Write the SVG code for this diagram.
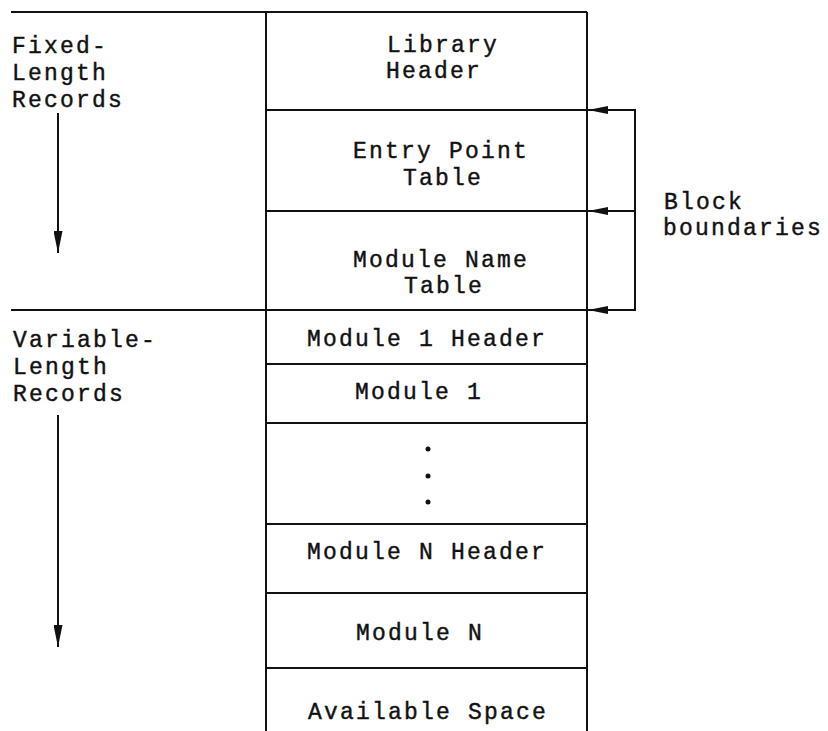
<svg xmlns="http://www.w3.org/2000/svg" width="828" height="731" viewBox="0 0 828 731">
<style>
  text { font-family: "Liberation Mono", "Courier New", monospace; font-size: 23px; letter-spacing: 2.2px; fill: #111; stroke: #111; stroke-width: 0.4px; }
  .ln { stroke: #111; stroke-width: 2; fill: none; }
</style>
<defs>
  <marker id="ah" viewBox="0 0 20 8" refX="20" refY="4" markerWidth="20" markerHeight="8" markerUnits="userSpaceOnUse" orient="auto">
    <path d="M0,0 L20,4 L0,8 Z" fill="#111"/>
  </marker>
  <marker id="ahv" viewBox="0 0 22 9" refX="22" refY="4.5" markerWidth="22" markerHeight="9" markerUnits="userSpaceOnUse" orient="auto">
    <path d="M0,0 L22,4.5 L0,9 Z" fill="#111"/>
  </marker>
</defs>
<rect width="828" height="731" fill="#fff"/>

<g id="frame">
  <line class="ln" x1="11" y1="12" x2="587" y2="12"/>
  <line class="ln" x1="11" y1="310" x2="587" y2="310"/>
  <line class="ln" x1="266" y1="12" x2="266" y2="731"/>
  <line class="ln" x1="587" y1="12" x2="587" y2="731"/>
</g>

<g id="library-header">
  <text x="387" y="52">Library</text>
  <text x="386" y="78">Header</text>
</g>
<g id="entry-point-table">
  <line class="ln" x1="266" y1="110" x2="587" y2="110"/>
  <text x="353" y="158">Entry Point</text>
  <text x="403" y="185">Table</text>
</g>
<g id="module-name-table">
  <line class="ln" x1="266" y1="211" x2="587" y2="211"/>
  <text x="353" y="267">Module Name</text>
  <text x="404" y="293">Table</text>
</g>
<g id="module-1-header">
  <text x="307" y="346">Module 1 Header</text>
</g>
<g id="module-1">
  <line class="ln" x1="266" y1="364" x2="587" y2="364"/>
  <text x="355" y="399">Module 1</text>
</g>
<g id="ellipsis">
  <line class="ln" x1="266" y1="423" x2="587" y2="423"/>
  <circle cx="428" cy="449" r="2.5" fill="#111"/>
  <circle cx="428" cy="476" r="2.5" fill="#111"/>
  <circle cx="428" cy="502" r="2.5" fill="#111"/>
</g>
<g id="module-n-header">
  <line class="ln" x1="266" y1="524" x2="587" y2="524"/>
  <text x="307" y="559">Module N Header</text>
</g>
<g id="module-n">
  <line class="ln" x1="266" y1="593" x2="587" y2="593"/>
  <text x="356" y="640">Module N</text>
</g>
<g id="available-space">
  <line class="ln" x1="266" y1="668" x2="587" y2="668"/>
  <text x="308" y="719">Available Space</text>
</g>

<g id="fixed-label">
  <text x="12" y="53">Fixed-</text>
  <text x="12" y="80">Length</text>
  <text x="12" y="107">Records</text>
</g>
<g id="variable-label">
  <text x="13" y="347">Variable-</text>
  <text x="13" y="374">Length</text>
  <text x="13" y="401">Records</text>
</g>
<g id="block-label">
  <text x="664" y="209">Block</text>
  <text x="663" y="235">boundaries</text>
</g>

<g id="connectors">
  <line class="ln" x1="58" y1="113" x2="58" y2="253" marker-end="url(#ahv)"/>
  <line class="ln" x1="58" y1="415" x2="58" y2="647" marker-end="url(#ahv)"/>
  <line class="ln" x1="635" y1="109" x2="635" y2="311"/>
  <line class="ln" x1="636" y1="110" x2="588" y2="110" marker-end="url(#ah)"/>
  <line class="ln" x1="636" y1="211" x2="588" y2="211" marker-end="url(#ah)"/>
  <line class="ln" x1="636" y1="310" x2="588" y2="310" marker-end="url(#ah)"/>
</g>
</svg>
